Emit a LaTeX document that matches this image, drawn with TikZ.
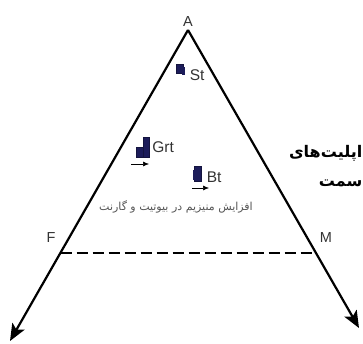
\documentclass[tikz,border=0pt]{standalone}
\usepackage{fontspec}
\setmainfont{Liberation Sans}
\newfontfamily\arabicfont[Script=Arabic]{DejaVu Sans}
\TeXXeTstate=1
\usetikzlibrary{arrows.meta,positioning}
\definecolor{mnbleu}{HTML}{1C1C5A}
\definecolor{mngris}{HTML}{555555}
\definecolor{mntexte}{HTML}{333333}

\begin{document}
\begin{tikzpicture}[x=1pt,y=-1pt,
  limb/.style={line width=2.2pt,-{Stealth[length=17pt,width=14pt,inset=4pt]}},
  tie/.style={line width=2.2pt,dash pattern=on 11pt off 5pt},
  vlabel/.style={font=\fontsize{14.5}{15}\selectfont,text=mntexte,inner sep=0pt},
  mineral/.style={font=\fontsize{15.5}{16}\selectfont,text=mntexte,inner sep=0pt},
  blk/.style={rectangle,fill=mnbleu,draw=mnbleu!70!black,line width=0.4pt,inner sep=0pt},
  drift/.style={line width=0.6pt,-{Latex[length=6pt,width=5pt]}},
  rtnote/.style={font=\arabicfont\fontsize{11}{12}\selectfont,text=mngris,inner sep=0pt},
  rtcut/.style={font=\arabicfont\bfseries\fontsize{16}{18}\selectfont,inner sep=0pt,anchor=east}]
  \useasboundingbox (0,0) rectangle (363,344);
  % triangle corners
  \coordinate (top) at (188,30);
  \coordinate (fend) at (10,341);
  \coordinate (mend) at (359,328);
  \coordinate (fpt) at (60.5,253);
  \coordinate (mpt) at (316.5,253);
  \node[vlabel,above=3pt of top] (a) {A};
  \node[vlabel] (f) at (51,238) {F};
  \node[vlabel] (m) at (326,238) {M};
  \draw[limb] (top) -- (fend);
  \draw[limb] (top) -- (mend);
  \draw[tie] (fpt) -- (mpt);
  % minerals
  \node[blk,minimum width=7pt,minimum height=9pt] (stm) at (180,69) {};
  \fill[mnbleu] (182,67) rectangle (185,75);
  \node[mineral,right=6pt of stm,yshift=-6pt] (st) {St};
  \node[blk,minimum width=6pt,minimum height=20pt] (grtm) at (146,147) {};
  \node[blk,minimum width=7pt,minimum height=10pt,left=0pt of grtm.south west,anchor=south west,xshift=-7pt] (grtb) {};
  \node[mineral,right=3pt of grtm] (grt) {Grt};
  \node[blk,minimum width=7pt,minimum height=15pt] (btm) at (198,174) {};
  \fill[mnbleu] (193,170) rectangle (196,180);
  \node[mineral,right=5pt of btm,yshift=-3pt] (bt) {Bt};
  \coordinate (ga) at (131,164);
  \coordinate (gb) at (149,164);
  \coordinate (ba) at (192,188);
  \coordinate (bb) at (209,188);
  \draw[drift] (ga) -- (gb);
  \draw[drift] (ba) -- (bb);
  % persian texts
  \node[rtcut] (meta) at (362.5,153) {\beginR اپلیت‌های\endR};
  \node[rtcut] (dir) at (362.5,183) {\beginR سمت\endR};
  \node[rtnote] (rise) at (176,207) {\beginR افزایش منیزیم در بیوتیت و گارنت\endR};
\end{tikzpicture}
\end{document}
